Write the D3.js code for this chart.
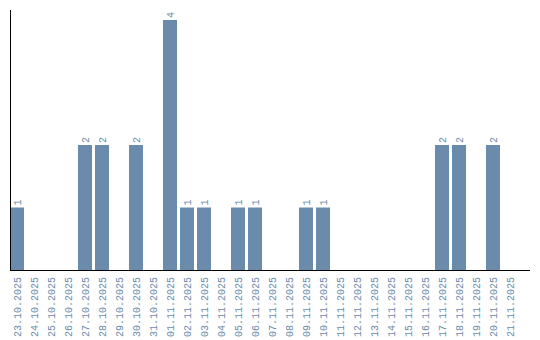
<!DOCTYPE html>
<html>
<head>
<meta charset="utf-8">
<script src="https://cdn.jsdelivr.net/npm/d3@7"></script>
<style>
  body { margin: 0; background: #fff; }
  text { font-family: "Liberation Mono", monospace; font-size: 10px; fill: #6a8bab; }
</style>
</head>
<body>
<div id="chart"></div>
<script>
const dates = ["23.10.2025","24.10.2025","25.10.2025","26.10.2025","27.10.2025","28.10.2025",
  "29.10.2025","30.10.2025","31.10.2025","01.11.2025","02.11.2025","03.11.2025","04.11.2025",
  "05.11.2025","06.11.2025","07.11.2025","08.11.2025","09.11.2025","10.11.2025","11.11.2025",
  "12.11.2025","13.11.2025","14.11.2025","15.11.2025","16.11.2025","17.11.2025","18.11.2025",
  "19.11.2025","20.11.2025","21.11.2025"]
const counts = [1,0,0,0,2,2,0,2,0,4,1,1,0,1,1,0,0,1,1,0,0,0,0,0,0,2,2,0,2,0]

const width = 540
const height = 340
const margin = {top: 10, right: 10, bottom: 70, left: 10}

const data = dates.map((d, i) => ({key: d, value: counts[i]}))

const svg = d3.select("#chart")
    .append("svg")
    .attr("width", width)
    .attr("height", height)

const x = d3.scaleBand()
    .domain(dates)
    .range([margin.left, 517])
    .paddingInner(3 / 17)
    .paddingOuter(0)

const y = d3.scaleLinear()
    .domain([0, 4])
    .range([height - margin.bottom, 20])

// bars
svg.append("g")
    .attr("fill", "#6a8bab")
    .selectAll("rect")
    .data(data.filter(d => d.value > 0))
    .join("rect")
    .attr("x", d => x(d.key))
    .attr("y", d => y(d.value))
    .attr("width", x.bandwidth())
    .attr("height", d => y(0) - y(d.value))

// value labels
svg.append("g")
    .selectAll("text")
    .data(data.filter(d => d.value > 0))
    .join("text")
    .attr("transform", d => `translate(${x(d.key) + x.bandwidth() / 2 + 3.5},${y(d.value) - 2}) rotate(-90)`)
    .text(d => d.value)

// axes lines
svg.append("line")
    .attr("x1", margin.left + 0.5).attr("x2", margin.left + 0.5)
    .attr("y1", margin.top).attr("y2", y(0))
    .attr("stroke", "black")
svg.append("line")
    .attr("x1", margin.left).attr("x2", width - margin.right)
    .attr("y1", y(0) + 0.5).attr("y2", y(0) + 0.5)
    .attr("stroke", "black")

// x labels
svg.append("g")
    .selectAll("text")
    .data(dates)
    .join("text")
    .attr("text-anchor", "end")
    .attr("transform", d => `translate(${x(d) + x.bandwidth() / 2 + 3.5},${y(0) + 7}) rotate(-90)`)
    .text(d => d)
</script>
</body>
</html>
